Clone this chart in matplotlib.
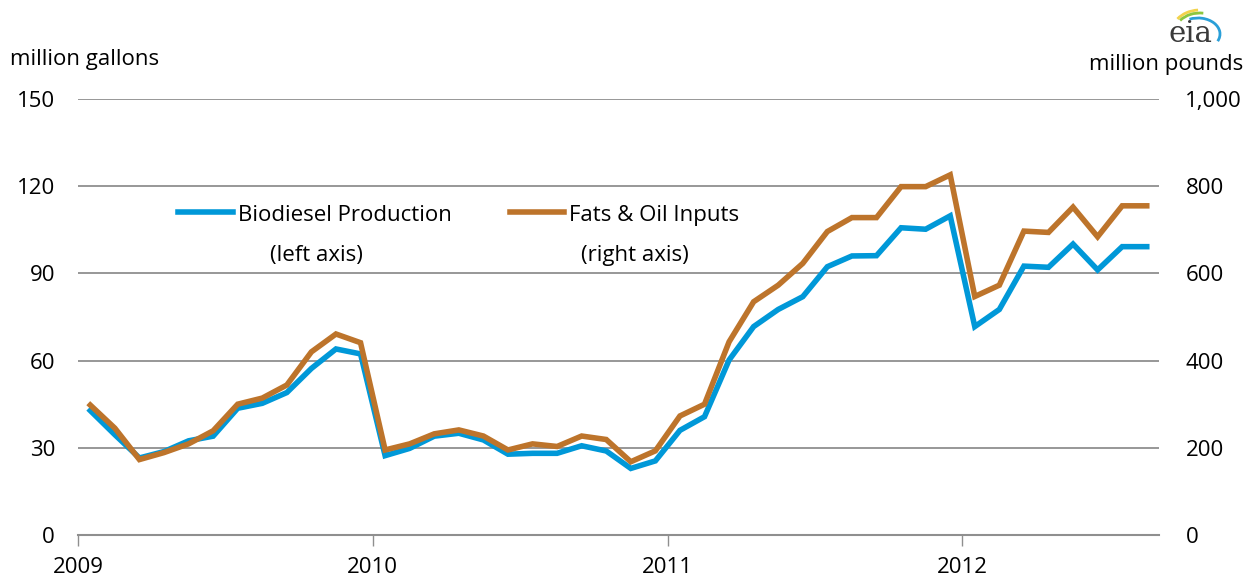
import numpy as np
import matplotlib
matplotlib.use("Agg")
import matplotlib.pyplot as plt
from matplotlib.patches import Arc
from matplotlib.transforms import IdentityTransform

plt.rcParams['font.family'] = ['Open Sans', 'DejaVu Sans']

# monthly values, Jan 2009 - Aug 2012
biodiesel = [42.8, 34.5, 26.5, 28.7, 32.4, 34.0, 43.6, 45.3, 49.0, 57.3, 64.0, 62.3,
             27.3, 29.8, 34.0, 35.0, 32.7, 27.8, 28.1, 28.1, 30.7, 28.9, 22.9, 25.5,
             36.0, 40.7, 60.2, 71.7, 77.6, 82.0, 92.3, 96.0, 96.1, 105.7, 105.2, 109.8,
             71.7, 77.6, 92.5, 92.1, 100.1, 91.2, 99.2, 99.2]
fats_oils = [298, 245, 173, 189, 209, 239, 300, 314, 344, 420, 461, 441,
             195, 209, 232, 241, 227, 195, 209, 203, 227, 219, 168, 193,
             273, 300, 443, 535, 573, 623, 696, 728, 728, 799, 799, 826,
             547, 573, 697, 694, 752, 684, 755, 755]
years = ['2009', '2010', '2011', '2012']
left_ticks = [0, 30, 60, 90, 120, 150]
right_ticks = [0, 200, 400, 600, 800, 1000]

blue = '#0098d8'
brown = '#bd742b'
grid_c = '#8f8f8f'
fs = 16

x = np.arange(len(biodiesel)) + 0.5

fig = plt.figure(figsize=(12.56, 5.8), dpi=100)
ax = fig.add_axes([0.0621, 0.0776, 0.8607, 0.7517])
ax2 = ax.twinx()

ax.plot(x, biodiesel, color=blue, lw=4, solid_joinstyle='miter')
ax2.plot(x, fats_oils, color=brown, lw=4, solid_joinstyle='miter')

ax.set_xlim(0, 44)
ax.set_ylim(0, 150)
ax2.set_ylim(0, 1000)
ax.set_yticks(left_ticks)
ax.set_yticklabels([str(v) for v in left_ticks])
ax2.set_yticks(right_ticks)
ax2.set_yticklabels([f'{v:,}' for v in right_ticks])
ax.set_xticks([0, 12, 24, 36])
ax.set_xticklabels(years)

for a in (ax, ax2):
    for s in a.spines.values():
        s.set_visible(False)
ax.spines['bottom'].set_visible(True)
ax.spines['bottom'].set_color(grid_c)
ax.spines['bottom'].set_linewidth(1.5)

ax.yaxis.grid(True, color=grid_c, lw=1.3)
ax.set_axisbelow(True)
ax.tick_params(axis='y', length=0, pad=16.5, labelsize=fs)
ax2.tick_params(axis='y', length=0, pad=19, labelsize=fs)
ax.tick_params(axis='x', length=8, width=1, color=grid_c, pad=8, labelsize=fs)

# axis titles
fig.text(0.008, 0.897, 'million gallons', fontsize=fs, ha='left', va='center')
fig.text(0.99, 0.888, 'million pounds', fontsize=fs, ha='right', va='center')

# legend drawn by hand so the sample line sits on the first text line
ax2.plot([0.0925, 0.1434], [0.741, 0.741], color=blue, lw=4, transform=ax.transAxes)
ax2.text(0.148, 0.720, 'Biodiesel Production', fontsize=fs, transform=ax.transAxes, va='baseline')
ax2.text(0.1776, 0.628, '(left axis)', fontsize=fs, transform=ax.transAxes, va='baseline')
ax2.plot([0.3996, 0.4496], [0.741, 0.741], color=brown, lw=4, transform=ax.transAxes)
ax2.text(0.4542, 0.720, 'Fats & Oil Inputs', fontsize=fs, transform=ax.transAxes, va='baseline')
ax2.text(0.4653, 0.628, '(right axis)', fontsize=fs, transform=ax.transAxes, va='baseline')

# eia logo
fig.text(0.9475, 0.941, 'eia', fontsize=21, family='DejaVu Serif', color='#3a3a3a',
         ha='center', va='center')
for (cx, cy, w, h, t1, t2, c) in [(1200, 548, 56, 44, 95, 150, '#f2d24b'),
                                  (1200, 548, 50, 38, 80, 150, '#8cc63f'),
                                  (1198, 546, 44, 32, -20, 120, '#2a9fd8')]:
    fig.patches.append(Arc((cx, cy), w, h, theta1=t1, theta2=t2, color=c, lw=2,
                           transform=IdentityTransform()))

fig.savefig('out.png', dpi=100)
